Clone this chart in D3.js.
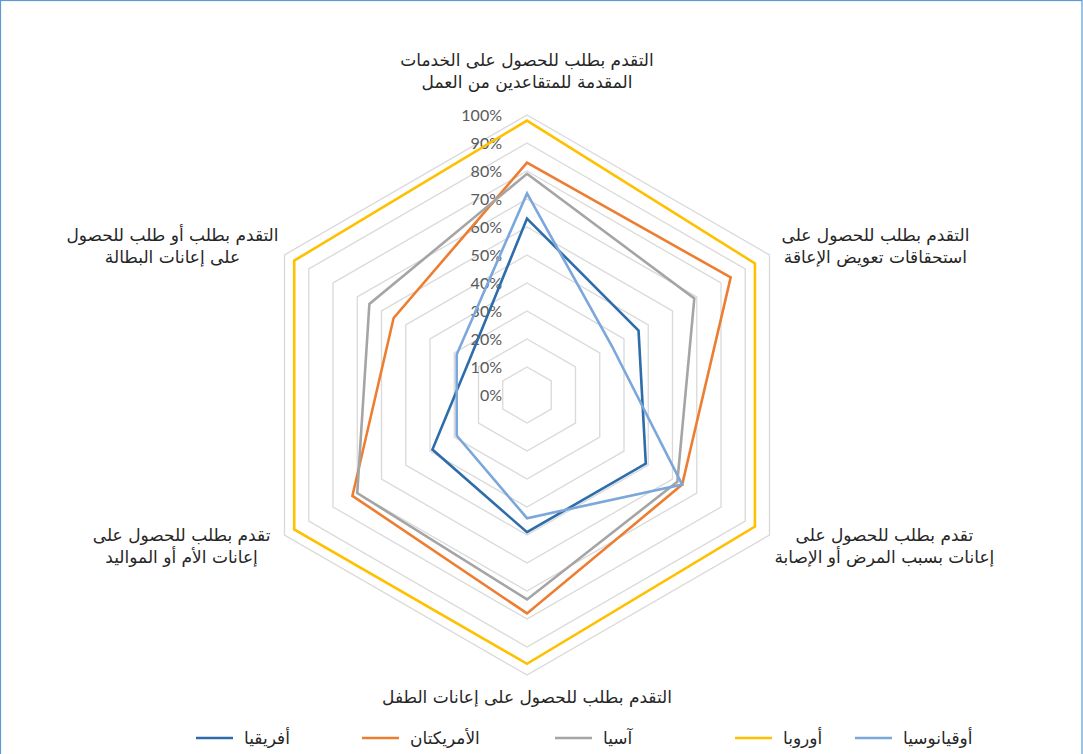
<!DOCTYPE html>
<html><head><meta charset="utf-8">
<script src="https://cdn.jsdelivr.net/npm/d3@7"></script>
<style>
html,body{margin:0;padding:0;background:#fff;}
svg{display:block;}
</style></head>
<body>
<svg id="chart" width="1083" height="754"></svg>
<script>
// ---- data ----
const categories = [
  ["التقدم بطلب للحصول على الخدمات", "المقدمة للمتقاعدين من العمل"],
  ["التقدم بطلب للحصول على", "استحقاقات تعويض الإعاقة"],
  ["تقدم بطلب للحصول على", "إعانات بسبب المرض أو الإصابة"],
  ["التقدم بطلب للحصول على إعانات الطفل"],
  ["تقدم بطلب للحصول على", "إعانات الأم أو المواليد"],
  ["التقدم بطلب أو طلب للحصول", "على إعانات البطالة"]
];
const seriesNames = ["أفريقيا", "الأمريكتان", "آسيا", "أوروبا", "أوقيانوسيا"];
const africa   = [63, 46, 49, 49, 39, 24];
const americas = [83, 84, 64, 78, 72, 55];
const asia     = [79, 69, 62, 73, 70, 65];
const europe   = [98, 94, 94, 96, 96, 96];
const oceania  = [72, 35, 64, 44, 29, 29];
const tickValues = [0, 10, 20, 30, 40, 50, 60, 70, 80, 90, 100];
const tickLabels = ["0%", "10%", "20%", "30%", "40%", "50%", "60%", "70%", "80%", "90%", "100%"];

const seriesValues = [africa, americas, asia, europe, oceania];
const colors = ["#2E6DAA", "#ED7D31", "#A5A5A5", "#FFC000", "#7BA7DA"];

// ---- layout ----
const W = 1083, H = 754;
const cx = 527, cy = 395, R = 280;
const svg = d3.select("#chart");

svg.append("rect").attr("x", 0.5).attr("y", 0.5).attr("width", W - 1.5).attr("height", H + 20)
  .attr("fill", "none").attr("stroke", "#5B9BD5").attr("stroke-width", 1.2);

const r = d3.scaleLinear().domain([0, 100]).range([0, R]);
const n = categories.length;
const angle = i => i * 2 * Math.PI / n; // 0 = top, clockwise

const g = svg.append("g").attr("transform", `translate(${cx},${cy})`);

const radial = d3.lineRadial().angle((d, i) => angle(i)).radius(d => r(d)).curve(d3.curveLinearClosed);

// grid rings
g.append("g").selectAll("path").data(tickValues.filter(v => v > 0)).join("path")
  .attr("d", v => radial(d3.range(n).map(() => v)))
  .attr("fill", "none").attr("stroke", "#D9D9D9").attr("stroke-width", 1.3);

// tick labels
g.append("g").selectAll("text").data(tickValues).join("text")
  .attr("x", -25).attr("y", v => -r(v)).attr("dy", "0.35em")
  .attr("text-anchor", "end")
  .attr("font-family", "Lato, 'Open Sans', sans-serif").attr("font-size", 16)
  .attr("fill", "#595959")
  .text((v, i) => tickLabels[i]);

// series
g.append("g").selectAll("path").data(seriesValues).join("path")
  .attr("d", d => radial(d))
  .attr("fill", "none").attr("stroke", (d, i) => colors[i])
  .attr("stroke-width", 2.6).attr("stroke-linejoin", "miter");

// category labels
const labelFont = "'DejaVu Sans', sans-serif";
const lineH = 22;
categories.forEach((lines, i) => {
  const a = angle(i);
  const vx = Math.sin(a) * r(100), vy = -Math.cos(a) * r(100);
  const lg = g.append("g");
  lines.forEach((t, k) => {
    lg.append("text").attr("x", 0).attr("y", k * lineH).attr("dy", "0.35em")
      .attr("text-anchor", "middle").attr("direction", "rtl")
      .attr("font-family", labelFont).attr("font-size", 17).attr("fill", "#262626")
      .text(t);
  });
  const bb = lg.node().getBBox();
  const w = bb.width;
  const hBlock = (lines.length - 1) * lineH;
  let tx, ty;
  const s = Math.sin(a), c = Math.cos(a);
  if (Math.abs(s) < 0.01) {
    tx = vx;
    ty = c > 0 ? vy - 33 - hBlock : vy + 22;
  } else {
    const gap = (s > 0) ? (c > 0 ? 12 : 5) : (c > 0 ? 6 : 14);
    tx = vx + Math.sign(s) * (gap + w / 2);
    ty = vy + (c > 0 ? -9 : 11) - hBlock / 2;
  }
  lg.attr("transform", `translate(${tx},${ty})`);
});

// legend
const legendX = [196, 362, 555, 735, 855];
const legY = 738;
const leg = svg.append("g");
seriesNames.forEach((name, i) => {
  const lgi = leg.append("g").attr("transform", `translate(${legendX[i]},${legY})`);
  lgi.append("line").attr("x1", 0).attr("x2", 37).attr("y1", 0).attr("y2", 0)
    .attr("stroke", colors[i]).attr("stroke-width", 2.6);
  lgi.append("text").attr("x", 48).attr("y", 0).attr("dy", "0.35em")
    .attr("text-anchor", "start")
    .attr("font-family", labelFont).attr("font-size", 17).attr("fill", "#262626")
    .text(name);
});
</script>
</body></html>
